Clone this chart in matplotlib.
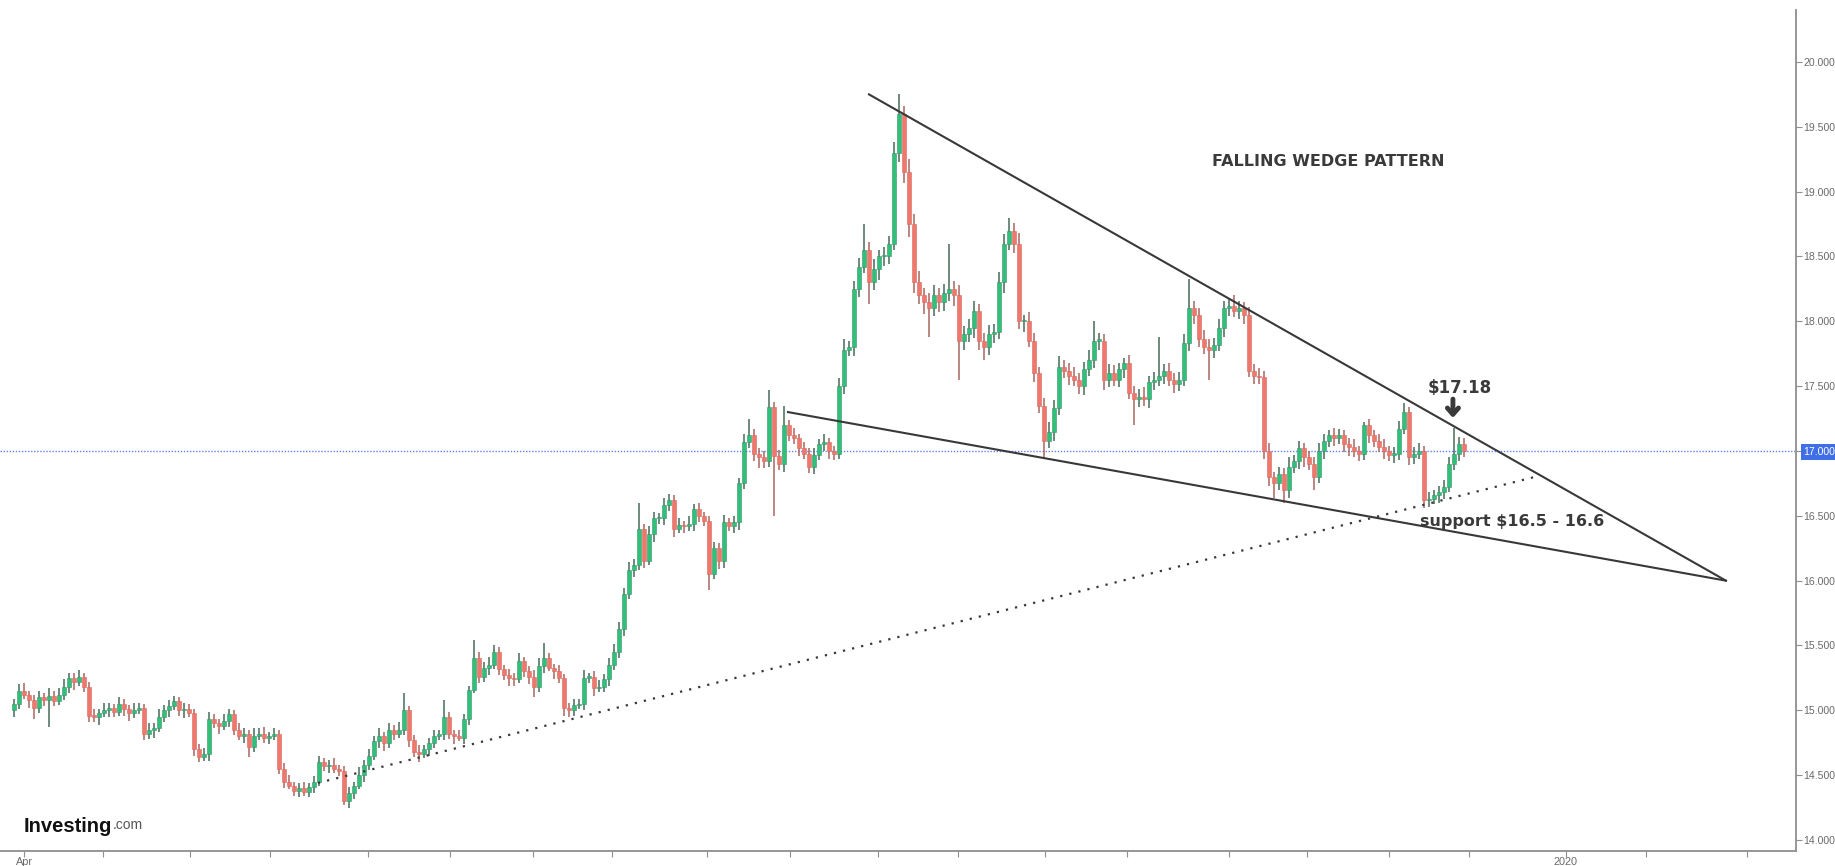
import numpy as np
import matplotlib
matplotlib.use("Agg")
import matplotlib.pyplot as plt

# closing prices, one candle per slot; open = previous close
first_open = 15.00
closes = [
    15.05, 15.15, 15.12, 15.08, 15.02, 15.10, 15.08, 15.11, 15.07, 15.12,
    15.18, 15.25, 15.22, 15.26, 15.18, 14.96, 14.95, 14.98, 15.00, 15.02,
    14.99, 15.05, 15.01, 14.98, 15.00, 15.02, 14.82, 14.85, 14.86, 14.95,
    15.00, 15.03, 15.07, 15.00, 15.01, 14.98, 14.70, 14.64, 14.66, 14.93,
    14.90, 14.88, 14.92, 14.97, 14.85, 14.80, 14.82, 14.72, 14.80, 14.82,
    14.79, 14.80, 14.82, 14.55, 14.45, 14.42, 14.38, 14.40, 14.37, 14.41,
    14.45, 14.60, 14.57, 14.58, 14.55, 14.53, 14.30, 14.36, 14.42, 14.50,
    14.58, 14.65, 14.76, 14.80, 14.75, 14.85, 14.82, 14.85, 15.00, 14.77,
    14.68, 14.66, 14.70, 14.75, 14.80, 14.82, 14.95, 14.82, 14.80, 14.79,
    14.93, 15.16, 15.40, 15.26, 15.33, 15.35, 15.45, 15.32, 15.27, 15.25,
    15.24, 15.38, 15.30, 15.26, 15.18, 15.34, 15.40, 15.33, 15.30, 15.25,
    15.02, 15.00, 15.04, 15.05, 15.25, 15.26, 15.17, 15.18, 15.24, 15.35,
    15.45, 15.63, 15.90, 16.08, 16.12, 16.40, 16.15, 16.36, 16.48, 16.48,
    16.58, 16.62, 16.40, 16.43, 16.42, 16.44, 16.55, 16.50, 16.46, 16.05,
    16.25, 16.15, 16.45, 16.42, 16.45, 16.75, 17.07, 17.12, 16.98, 16.95,
    16.92, 17.34, 16.96, 16.90, 17.20, 17.12, 17.10, 17.02, 16.98, 16.88,
    16.97, 17.05, 17.07, 17.00, 16.98, 17.50, 17.78, 17.80, 18.25, 18.42,
    18.55, 18.30, 18.40, 18.50, 18.50, 18.60, 19.30, 19.60, 19.15, 18.75,
    18.30, 18.20, 18.15, 18.10, 18.20, 18.15, 18.22, 18.25, 18.20, 17.85,
    17.90, 17.95, 18.08, 17.85, 17.80, 17.90, 17.92, 18.30, 18.60, 18.70,
    18.60, 18.00, 18.00, 17.85, 17.60, 17.35, 17.08, 17.15, 17.33, 17.65,
    17.62, 17.58, 17.55, 17.50, 17.63, 17.70, 17.85, 17.85, 17.55, 17.60,
    17.55, 17.63, 17.68, 17.45, 17.40, 17.42, 17.40, 17.53, 17.55, 17.58,
    17.62, 17.55, 17.52, 17.55, 17.83, 18.10, 18.05, 17.86, 17.80, 17.78,
    17.82, 17.95, 18.10, 18.12, 18.08, 18.10, 18.05, 17.62, 17.58, 17.57,
    17.00, 16.80, 16.75, 16.82, 16.70, 16.88, 16.92, 17.02, 16.95, 16.90,
    16.80, 17.00, 17.08, 17.12, 17.10, 17.12, 17.05, 17.03, 17.00, 16.98,
    17.20, 17.12, 17.08, 17.03, 17.00, 16.97, 16.98, 17.17, 17.30, 16.95,
    16.98, 17.00, 16.62, 16.63, 16.66, 16.68, 16.72, 16.90, 16.98, 17.05,
    17.00,
]

# upper / lower shadows beyond the body, in cents
wick_up = [
    4, 5, 6, 3, 4, 5, 3, 6, 4, 5,
    6, 4, 4, 5, 3, 4, 5, 3, 6, 4,
    3, 5, 4, 3, 6, 4, 3, 5, 4, 6,
    4, 5, 4, 3, 5, 4, 3, 4, 5, 6,
    4, 3, 5, 4, 3, 5, 4, 3, 6, 4,
    5, 3, 4, 3, 4, 5, 3, 4, 5, 3,
    4, 5, 3, 4, 5, 3, 4, 5, 3, 6,
    4, 5, 4, 6, 3, 5, 4, 6, 13, 3,
    4, 5, 3, 4, 5, 3, 13, 4, 3, 5,
    4, 3, 14, 5, 4, 6, 5, 4, 3, 5,
    4, 6, 3, 4, 5, 6, 12, 4, 3, 5,
    3, 4, 5, 4, 6, 3, 4, 5, 4, 5,
    6, 5, 4, 6, 5, 20, 4, 6, 5, 4,
    6, 5, 4, 5, 3, 6, 4, 5, 3, 4,
    5, 4, 6, 3, 5, 4, 6, 13, 5, 4,
    5, 13, 4, 5, 15, 4, 6, 3, 5, 4,
    5, 4, 6, 3, 4, 6, 8, 5, 6, 7,
    20, 6, 8, 5, 7, 6, 8, 15, 6, 10,
    8, 9, 6, 7, 8, 6, 7, 35, 6, 8,
    6, 7, 8, 5, 6, 7, 6, 8, 7, 10,
    6, 8, 5, 7, 6, 5, 6, 7, 6, 8,
    5, 6, 7, 5, 6, 8, 15, 6, 5, 7,
    6, 5, 4, 6, 5, 6, 7, 5, 6, 30,
    5, 6, 5, 6, 7, 23, 6, 5, 7, 6,
    5, 7, 6, 5, 8, 6, 5, 6, 5, 6,
    5, 6, 4, 6, 5, 7, 5, 6, 4, 5,
    5, 6, 5, 4, 6, 5, 4, 5, 6, 4,
    2, 5, 4, 5, 6, 4, 5, 6, 7, 4,
    5, 6, 4, 5, 4, 5, 6, 5, 20, 6,
    5,
]
wick_dn = [
    5, 4, 3, 6, 9, 4, 5, 21, 4, 3,
    4, 5, 6, 3, 4, 5, 4, 6, 3, 5,
    4, 3, 5, 6, 4, 3, 5, 4, 6, 3,
    4, 5, 3, 4, 6, 3, 5, 4, 3, 5,
    4, 6, 3, 5, 4, 3, 5, 8, 4, 3,
    4, 5, 3, 4, 5, 3, 4, 5, 3, 4,
    5, 3, 4, 5, 3, 4, 3, 5, 4, 3,
    5, 4, 3, 5, 6, 4, 5, 3, 4, 5,
    4, 6, 3, 5, 4, 3, 5, 4, 6, 3,
    5, 4, 3, 5, 4, 6, 3, 5, 4, 6,
    5, 3, 4, 6, 8, 4, 5, 3, 6, 4,
    6, 5, 4, 3, 5, 4, 6, 3, 4, 5,
    4, 5, 6, 4, 5, 4, 5, 3, 6, 4,
    5, 4, 6, 3, 5, 4, 6, 5, 4, 12,
    4, 6, 5, 4, 5, 6, 4, 5, 6, 8,
    5, 4, 46, 5, 6, 4, 5, 6, 4, 5,
    6, 4, 5, 6, 5, 4, 6, 5, 7, 6,
    5, 17, 6, 8, 7, 6, 5, 7, 8, 10,
    8, 7, 9, 22, 6, 8, 7, 6, 8, 30,
    7, 6, 8, 7, 10, 6, 7, 6, 8, 5,
    7, 6, 8, 5, 7, 6, 13, 6, 7, 5,
    6, 7, 5, 6, 7, 5, 6, 7, 8, 6,
    5, 6, 7, 5, 20, 6, 5, 7, 6, 5,
    6, 5, 7, 6, 5, 6, 7, 6, 5, 23,
    6, 5, 7, 6, 5, 6, 7, 5, 6, 5,
    6, 7, 11, 5, 10, 6, 5, 6, 7, 5,
    10, 5, 6, 5, 6, 5, 6, 7, 5, 6,
    5, 6, 5, 4, 6, 5, 6, 5, 4, 6,
    5, 4, 6, 5, 4, 6, 5, 4, 5, 6,
    5,
]

# x axis ticks (candle slots) and labels
tick_pos = [2, 17.8, 35.2, 51.2, 70.8, 87.2, 103.8, 119.6, 138.6, 155.2, 172.8,
            188.8, 206.2, 222.6, 243, 258.6, 275, 291, 310.4, 326.4, 346.6]
tick_lbl = ["Apr"] + [""] * 17 + ["2020", "", ""]

price_ticks = [14.0, 14.5, 15.0, 15.5, 16.0, 16.5, 17.0, 17.5, 18.0, 18.5, 19.0, 19.5, 20.0]
last_price = 17.0

# drawn trend lines (slot, price)
upper_x, upper_y = [171.0, 342.4], [19.75, 16.0]
lower_x, lower_y = [154.8, 342.4], [17.30, 16.0]
support_x, support_y = [60.8, 304.2], [14.44, 16.80]


def main():
    n = len(closes)
    idx = np.arange(n)
    c = np.array(closes)
    o = np.concatenate([[first_open], c[:-1]])
    top = np.maximum(o, c)
    bot = np.minimum(o, c)
    hi = top + np.array(wick_up[:n]) / 100.0
    lo = bot - np.array(wick_dn[:n]) / 100.0
    up = c >= o

    fig = plt.figure(figsize=(18.35, 8.66), dpi=100)
    ax = fig.add_axes([0.0, 0.0173, 0.9787, 0.9712])

    ax.axhline(last_price, color="#5f82ff", lw=1.0, ls=(0, (1, 1.2)), zorder=1)

    green, red = "#2fc07a", "#ef786c"
    ax.vlines(idx[up], lo[up], hi[up], color="#466b5a", lw=1.1, zorder=2)
    ax.vlines(idx[~up], lo[~up], hi[~up], color="#a86660", lw=1.1, zorder=2)
    h = np.maximum(top - bot, 0.012)
    ax.bar(idx[up], h[up], bottom=bot[up], width=0.7, color=green,
           edgecolor="#3f8f66", lw=0.4, zorder=3)
    ax.bar(idx[~up], h[~up], bottom=bot[~up], width=0.7, color=red,
           edgecolor="#d9675d", lw=0.4, zorder=3)

    ax.plot(upper_x, upper_y, color="#383838", lw=1.5, zorder=4)
    ax.plot(lower_x, lower_y, color="#383838", lw=1.5, zorder=4)
    ax.plot(support_x, support_y, color="#383838", lw=1.6, ls=(0, (1, 3.2)), zorder=4)

    ax.set_xlim(-2.8, 356.4)
    ax.set_ylim(13.915, 20.401)

    for s in ["left", "top"]:
        ax.spines[s].set_visible(False)
    for s in ["right", "bottom"]:
        ax.spines[s].set_color("#8f8f8f")
        ax.spines[s].set_linewidth(1.3)

    ax.yaxis.tick_right()
    ax.set_yticks(price_ticks, [f"{v:.3f}" for v in price_ticks])
    ax.tick_params(axis="y", length=4, color="#8f8f8f", labelcolor="#6a6a6a",
                   labelsize=7.6, pad=1.5)
    for lbl in ax.get_yticklabels():
        lbl.set_family(["Liberation Sans", "DejaVu Sans"])
        if lbl.get_text() == f"{last_price:.3f}":
            lbl.set_color("white")
            lbl.set_bbox(dict(boxstyle="square,pad=0.25", fc="#3f6ee6", ec="none"))

    ax.set_xticks(tick_pos, tick_lbl)
    ax.tick_params(axis="x", length=4, color="#8f8f8f", labelcolor="#6a6a6a",
                   labelsize=7.8, pad=0.5)
    for lbl in ax.get_xticklabels():
        lbl.set_family(["Liberation Sans", "DejaVu Sans"])

    ax.text(262.8, 19.233, "FALLING WEDGE PATTERN", fontsize=11.5, fontweight="bold",
            color="#3a3a3a", ha="center", va="center")
    ax.text(289.2, 17.486, "$17.18", fontsize=12, fontweight="bold",
            color="#3a3a3a", ha="center", va="center")
    ax.annotate("", xy=(287.8, 17.255), xytext=(287.8, 17.40),
                arrowprops=dict(arrowstyle="->,head_length=0.45,head_width=0.4",
                                lw=3.5, color="#3a3a3a", shrinkA=0, shrinkB=0))
    ax.text(281.2, 16.453, "support $16.5 - 16.6", fontsize=11.5, fontweight="bold",
            color="#3a3a3a", ha="left", va="center")

    logo = fig.text(24 / 1835, 1 - 826 / 866, "Investing", fontsize=14.5,
                    fontweight="bold", color="#111111", va="center",
                    family=["Liberation Sans", "DejaVu Sans"])
    ax.annotate(".com", xy=(1, 0.2), xycoords=logo, fontsize=10, color="#555555",
                va="bottom", ha="left", family=["Liberation Sans", "DejaVu Sans"],
                annotation_clip=False)

    fig.savefig("out.png", dpi=100)
    return 0


if __name__ == "__main__":
    main()
